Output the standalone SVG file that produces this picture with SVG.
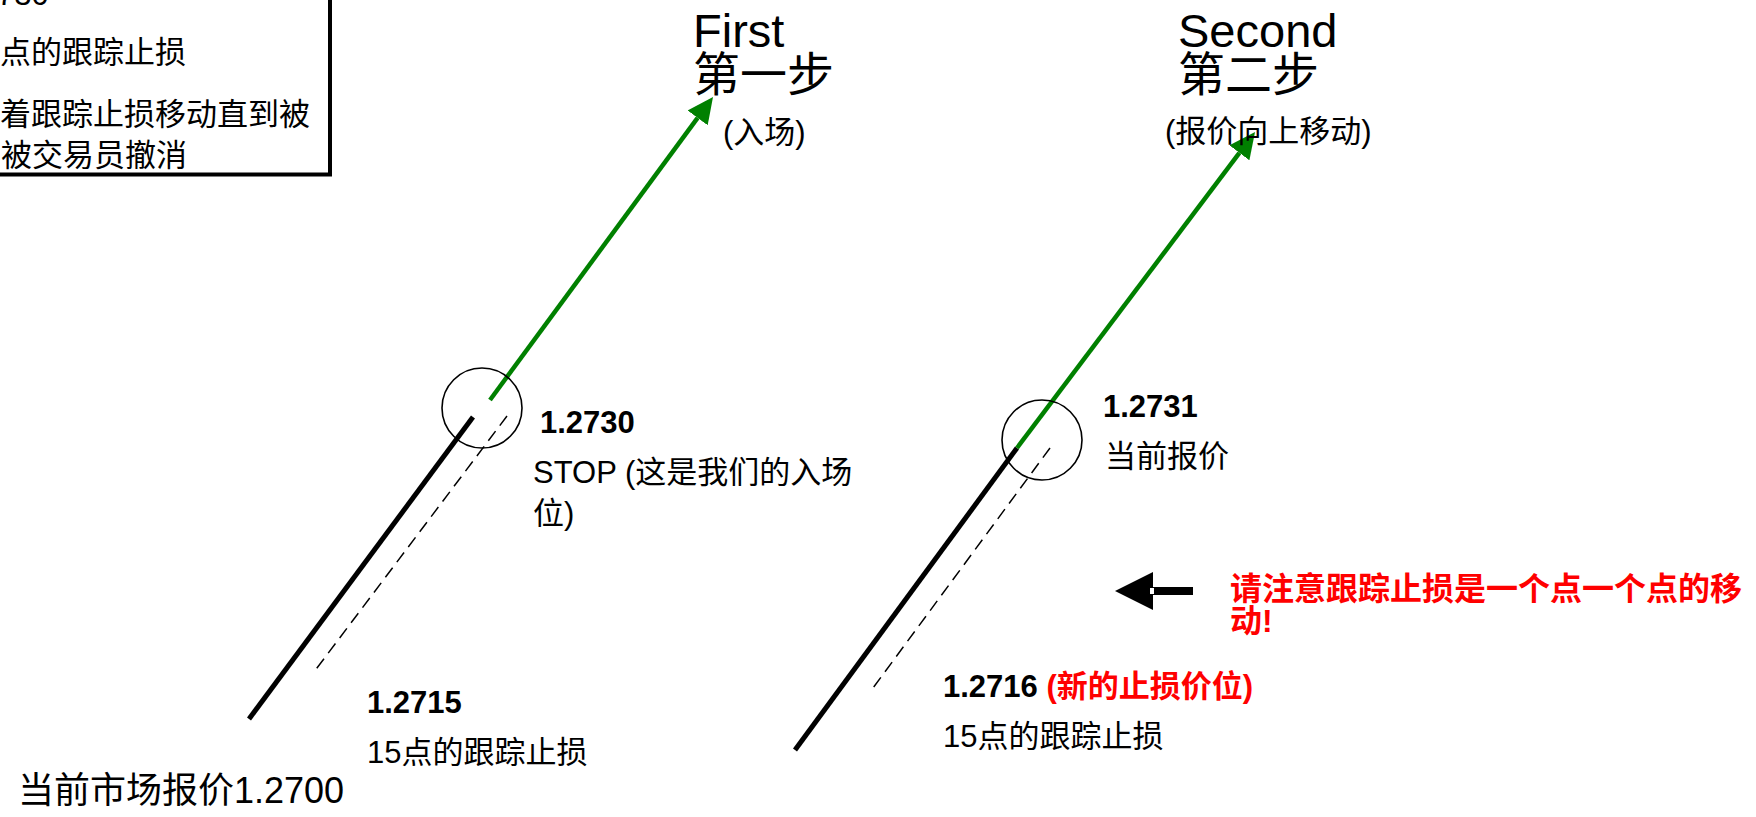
<svg xmlns="http://www.w3.org/2000/svg" width="1756" height="817" viewBox="0 0 1756 817">
<style>
text{font-family:"Liberation Sans","Noto Sans CJK SC",sans-serif;fill:#000}
.t31{font-size:31px}
.t46{font-size:47px}
.b{font-weight:bold}
.red{fill:#FF0000}
.price{stroke:#000;stroke-width:5;fill:none}
.trend{stroke:#008000;stroke-width:4.5;fill:none}
.trail{stroke:#000;stroke-width:1.5;stroke-dasharray:12 7;fill:none}
.ring{stroke:#000;stroke-width:1.6;fill:none}
</style>
<defs>
<marker id="gh" markerUnits="userSpaceOnUse" markerWidth="28" markerHeight="26" refX="0" refY="12.5" orient="auto">
<path d="M0,0 L26,12.5 L0,25 z" fill="#008000"/>
</marker>
</defs>
<rect width="1756" height="817" fill="#fff"/>

<g id="note-box">
<rect x="-20" y="-20" width="350" height="194.5" fill="#fff" stroke="#000" stroke-width="4"/>
<text class="t31" x="-3" y="5">730</text>
<text class="t31" x="0" y="63">点的跟踪止损</text>
<text class="t31" x="0" y="125">着跟踪止损移动直到被</text>
<text class="t31" x="1" y="166">被交易员撤消</text>
</g>

<g id="connectors">
<line class="price" x1="249" y1="719" x2="473" y2="417"/>
<line class="trail" x1="507" y1="416" x2="314" y2="672"/>
<line class="trend" x1="490" y1="400" x2="697.6" y2="117.9" marker-end="url(#gh)"/>
<line class="price" x1="795" y1="750" x2="1017" y2="448"/>
<line class="trail" x1="1050" y1="448" x2="873" y2="688"/>
<line class="trend" x1="1017" y1="448" x2="1239.4" y2="152.8" marker-end="url(#gh)"/>
<g id="note-arrow">
<line x1="1193" y1="591" x2="1152" y2="591" stroke="#000" stroke-width="8"/>
<polygon points="1115,591 1153,572 1153,610" fill="#000"/>
<rect x="1150" y="588" width="4" height="6" fill="#fff"/>
</g>
</g>

<g id="step1-title">
<text class="t46" x="693" y="47">First</text>
<text class="t46" x="693" y="91">第一步</text>
<text class="t31" x="723" y="143">(入场)</text>
</g>

<g id="step2-title">
<text class="t46" x="1178" y="47">Second</text>
<text class="t46" x="1178" y="91">第二步</text>
<text class="t31" x="1165" y="142">(报价向上移动)</text>
</g>

<g id="entry-point">
<circle class="ring" cx="482" cy="408" r="40"/>
<text class="t31 b" x="540" y="433">1.2730</text>
<text class="t31" x="533" y="483">STOP (这是我们的入场</text>
<text class="t31" x="533" y="524">位)</text>
</g>

<g id="stop-1">
<text class="t31 b" x="367" y="713">1.2715</text>
<text class="t31" x="367" y="763">15点的跟踪止损</text>
</g>

<g id="market-price">
<text x="18" y="803" style="font-size:36px">当前市场报价1.2700</text>
</g>

<g id="current-price">
<circle class="ring" cx="1042" cy="440" r="40"/>
<text class="t31 b" x="1103" y="417">1.2731</text>
<text class="t31" x="1105" y="467">当前报价</text>
</g>

<g id="stop-2">
<text class="t31 b" x="943" y="697">1.2716 <tspan class="red">(新的止损价位)</tspan></text>
<text class="t31" x="943" y="747">15点的跟踪止损</text>
</g>

<g id="note">
<text class="b red" style="font-size:32px" x="1230" y="600">请注意跟踪止损是一个点一个点的移</text>
<text class="b red" style="font-size:32px" x="1230" y="632">动!</text>
</g>
</svg>
